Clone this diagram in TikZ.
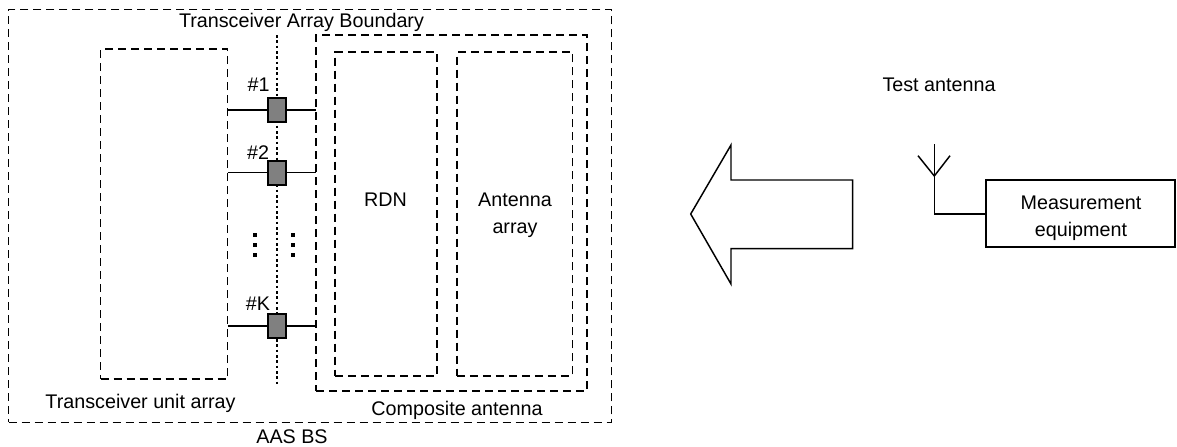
\documentclass[tikz,border=0pt]{standalone}
\usepackage{fontspec}
\setmainfont{Liberation Sans}
\tikzset{
 px/.style={x=0.75pt,y=-0.75pt},
 dbox/.style={draw,dash pattern=on 6pt off 3.75pt,line width=1.1pt,inner sep=0,outer sep=0},
 square/.style={draw,fill=black!50,line width=1.5pt,minimum width=13.5pt,minimum height=18.2pt,inner sep=0,outer sep=0},
 lbl/.style={font=\fontsize{14.8}{20}\selectfont,align=center,inner sep=0},
 link/.style={line width=1.1pt},
 solidline/.style={line width=1.1pt},
 dotline/.style={line width=1.5pt,dash pattern=on 2pt off 2pt},
 vdot/.style={fill=black,minimum size=3pt,inner sep=0,draw=none}
}
\newcommand{\boxat}[5]{\node[dbox,minimum width=#4*0.75pt,minimum height=#5*0.75pt] (#1) at (#2,#3) {};}
\begin{document}
\begin{tikzpicture}[px]
\useasboundingbox (0,0) rectangle (1177,446);
\boxat{outer}{310.2}{216}{603}{412.6}
\boxat{unitarr}{164.2}{214}{127}{330}
\boxat{comp}{451.5}{213}{271}{356}
\boxat{rdn}{386}{214}{102}{323.6}
\boxat{ant}{514.7}{214}{115.5}{323.6}
\coordinate (dtop) at (277,35);
\coordinate (dbot) at (277,384);
\draw[dotline] (dtop) -- (dbot);
\node[square] (s1) at (276.7,110) {};
\node[square] (s2) at (276.7,172.7) {};
\node[square] (sk) at (276.7,326.2) {};
\foreach \s in {s1,s2,sk}{
  \draw[link] (unitarr.east |- \s) -- (\s);
  \draw[link] (\s) -- (comp.west |- \s);
}
\node[lbl] (n1) at (258.5,85) {\#1};
\node[lbl] (n2) at (258,153) {\#2};
\node[lbl] (nk) at (258,304) {\#K};
\foreach \x in {255,293}\foreach \y in {235,245,255}
  \node[vdot] at (\x,\y) {};
\node[lbl] (ttop) at (301.5,22) {Transceiver Array Boundary};
\node[lbl] (tua) at (140.5,403) {Transceiver unit array};
\node[lbl] (tca) at (457,410) {Composite antenna};
\node[lbl] (taas) at (292,436.5) {AAS BS};
\node[lbl] (trdn) at (385.5,200) {RDN};
\node[lbl] (tant) at (515,215) {Antenna\\array};
\node[lbl] (ttest) at (939,85) {Test antenna};
\node[draw,line width=1.1pt,minimum width=141.7pt,minimum height=50.25pt,inner sep=0,outer sep=0] (meq) at (1080.5,213.5) {};
\node[lbl] (meqt) at (1081,218) {Measurement\\equipment};
\draw[solidline,line join=miter] (690.7,214) -- (731,145) -- (731,180) -- (852.7,180) -- (852.7,248.7) -- (731,248.7) -- (731,284) -- cycle;
\coordinate (atop) at (934.3,144);
\coordinate (acorner) at (934.3,214);
\coordinate (afork) at (934.3,176);
\coordinate (al) at (918,155.7);
\coordinate (ar) at (950,155.7);
\draw[solidline] (atop) -- (acorner) -- (meq.west |- acorner);
\draw[solidline] (al) -- (afork) -- (ar);
\end{tikzpicture}
\end{document}
